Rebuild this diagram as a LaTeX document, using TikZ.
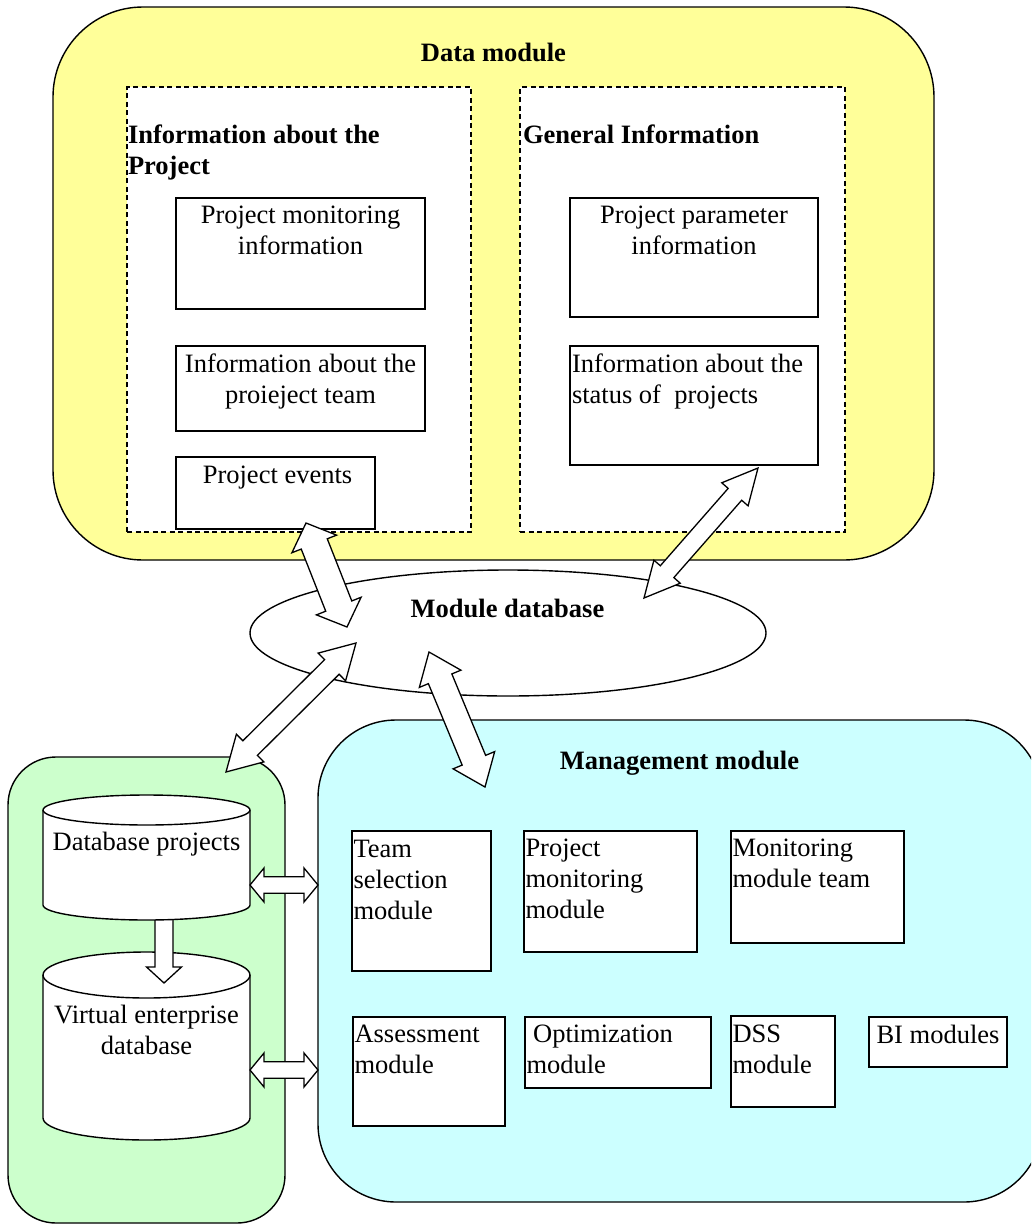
\documentclass[tikz,border=0pt]{standalone}
\usepackage{fontspec}
\setmainfont{Liberation Serif}
\usetikzlibrary{calc,shapes.geometric}

\definecolor{datafill}{RGB}{255,255,153}
\definecolor{mgmtfill}{RGB}{204,255,255}
\definecolor{storefill}{RGB}{204,255,204}

% stacked lines whose base anchor is the first baseline
\newcommand\txtL[1]{\vtop{\halign{##\hfil\cr#1\crcr}}}
\newcommand\txtC[1]{\vtop{\halign{\hfil##\hfil\cr#1\crcr}}}

% block double arrow: from, to, head length, head half-width, shaft half-width
\newcommand\dblarrow[5]{%
  \coordinate (ha) at ($(#1)!#3!(#2)$);
  \coordinate (hb) at ($(#2)!#3!(#1)$);
  \draw[fatarrow] (#1) -- ($(ha)!#4!90:(#2)$) -- ($(ha)!#5!90:(#2)$)
    -- ($(hb)!#5!-90:(#1)$) -- ($(hb)!#4!-90:(#1)$) -- (#2)
    -- ($(hb)!#4!90:(#1)$) -- ($(hb)!#5!90:(#1)$)
    -- ($(ha)!#5!-90:(#2)$) -- ($(ha)!#4!-90:(#2)$) -- cycle;}

% block single arrow: from, to, head length, head half-width, shaft half-width
\newcommand\onearrow[5]{%
  \coordinate (ha) at ($(#2)!#3!(#1)$);
  \draw[fatarrow] ($(#1)!#5!90:(#2)$) -- ($(ha)!#5!-90:(#1)$)
    -- ($(ha)!#4!-90:(#1)$) -- (#2) -- ($(ha)!#4!90:(#1)$)
    -- ($(ha)!#5!90:(#1)$) -- ($(#1)!#5!-90:(#2)$) -- cycle;}

\tikzset{
  every node/.style={font=\fontsize{26.5}{31}\selectfont, inner sep=0pt, outer sep=0pt},
  outline/.style={draw=black, line width=1.4pt},
  container/.style={outline, rectangle, anchor=north west},
  dashbox/.style={draw=black, line width=1.3pt, dash pattern=on 5pt off 3.5pt,
    fill=white, rectangle, anchor=north west},
  infobox/.style={outline, fill=white, rectangle, anchor=north west},
  fatarrow/.style={draw=black, line width=1.3pt, fill=white, line join=miter},
  titletext/.style={font=\fontsize{26.5}{31}\selectfont\bfseries},
}

\begin{document}
\begin{tikzpicture}[x=1pt,y=-1pt]
\useasboundingbox (0,0) rectangle (1031,1226);
\clip (0,0) rectangle (1031,1226);

% ---------------- data module ----------------
\node[container, fill=datafill, rounded corners=90pt,
  minimum width=881pt, minimum height=553pt] (datamod) at (53,7) {};
\node[titletext, anchor=base] (datatitle) at (493.5,61) {Data module};

\node[dashbox, minimum width=344pt, minimum height=445pt] (projinfo) at (127,87) {};
\node[dashbox, minimum width=325pt, minimum height=445pt] (geninfo) at (520,87) {};
\node[titletext, anchor=base west] (projtitle) at (128,143)
  {\txtL{Information about the\cr Project}};
\node[titletext, anchor=base west] (gentitle) at (523,143) {General Information};

\node[infobox, minimum width=249pt, minimum height=111pt] (pmon) at (176,198) {};
\node[anchor=base] (pmontxt) at (300.5,223) {\txtC{Project monitoring\cr information}};

\node[infobox, minimum width=249pt, minimum height=85pt] (pteam) at (176,346) {};
\node[anchor=base] (pteamtxt) at (300.5,372) {\txtC{Information about the\cr proieject team}};

\node[infobox, minimum width=199pt, minimum height=72pt] (pevents) at (176,457) {};
\node[anchor=base] (peventstxt) at (277.5,483) {Project events};

\node[infobox, minimum width=248pt, minimum height=119pt] (ppar) at (570,198) {};
\node[anchor=base] (ppartxt) at (694,223) {\txtC{Project parameter\cr information}};

\node[infobox, minimum width=248pt, minimum height=119pt] (pstat) at (570,346) {};
\node[anchor=base west] (pstattxt) at (572,372)
  {\txtL{Information about the\cr status of\ \ projects}};

% ---------------- module database ----------------
\node[ellipse, outline, fill=white, minimum width=516pt, minimum height=126pt]
  (moddb) at (508,633) {};
\node[titletext, anchor=base] (moddbtxt) at (507.5,617) {Module database};

% ---------------- storage ----------------
\node[container, fill=storefill, rounded corners=48pt,
  minimum width=277pt, minimum height=466pt] (store) at (8,757) {};

% virtual enterprise database cylinder
\filldraw[outline, fill=white] (43,975) -- (43,1118) arc (180:360:103.5pt and 22pt)
  -- (250,975) arc (0:180:103.5pt and 23pt) -- cycle;
\draw[outline] (43,975) arc (180:360:103.5pt and 23pt);
\node[anchor=base] (vedb) at (146.5,1023) {\txtC{Virtual enterprise\cr database}};

% copy arrow between the two databases
\coordinate (cpa) at (164,915);
\coordinate (cpb) at (164,983);
\onearrow{cpa}{cpb}{16pt}{17.5pt}{9pt}

% projects database cylinder
\filldraw[outline, fill=white] (43,810) -- (43,905) arc (180:360:103.5pt and 15pt)
  -- (250,810) arc (0:180:103.5pt and 15pt) -- cycle;
\draw[outline] (43,810) arc (180:360:103.5pt and 15pt);
\node[anchor=base] (dbproj) at (146.5,850) {Database projects};

% ---------------- management module ----------------
\node[container, fill=mgmtfill, rounded corners=78pt,
  minimum width=724pt, minimum height=482pt] (mgmt) at (318,720) {};
\node[titletext, anchor=base] (mgmttitle) at (679.5,769) {Management module};

\node[infobox, minimum width=139pt, minimum height=140pt] (teamsel) at (352,831) {};
\node[anchor=base west] (teamseltxt) at (353.5,857) {\txtL{Team\cr selection\cr module}};

\node[infobox, minimum width=173pt, minimum height=121pt] (pmonmod) at (524,831) {};
\node[anchor=base west] (pmonmodtxt) at (525.5,856) {\txtL{Project\cr monitoring\cr module}};

\node[infobox, minimum width=173pt, minimum height=112pt] (monteam) at (731,831) {};
\node[anchor=base west] (monteamtxt) at (732.5,856) {\txtL{Monitoring\cr module team}};

\node[infobox, minimum width=152pt, minimum height=109pt] (assess) at (353,1017) {};
\node[anchor=base west] (assesstxt) at (354.5,1042) {\txtL{Assessment\cr module}};

\node[infobox, minimum width=186pt, minimum height=71pt] (optim) at (525,1017) {};
\node[anchor=base west] (optimtxt) at (526.5,1042) {\txtL{\ Optimization\cr module}};

\node[infobox, minimum width=104pt, minimum height=91pt] (dss) at (731,1016) {};
\node[anchor=base west] (dsstxt) at (732.5,1042) {\txtL{DSS\cr module}};

\node[infobox, minimum width=138pt, minimum height=50pt] (bi) at (869,1017) {};
\node[anchor=base] (bitxt) at (938,1043) {BI modules};

% ---------------- connectors ----------------
\coordinate (evA) at (306,523);   \coordinate (evB) at (347,627);
\coordinate (stA) at (758,468);   \coordinate (stB) at (644,598);
\coordinate (vdA) at (356,643);   \coordinate (vdB) at (226,772);
\coordinate (mgA) at (429,652);   \coordinate (mgB) at (485,787);
\coordinate (h1A) at (250,885);   \coordinate (h1B) at (318,885);
\coordinate (h2A) at (250,1070);  \coordinate (h2B) at (318,1070);

\dblarrow{evA}{evB}{22.5pt}{24pt}{14pt}
\dblarrow{stA}{stB}{35pt}{17.5pt}{9pt}
\dblarrow{vdA}{vdB}{34pt}{19.5pt}{10.3pt}
\dblarrow{mgA}{mgB}{29pt}{22.5pt}{12.7pt}
\dblarrow{h1A}{h1B}{14pt}{17pt}{8.3pt}
\dblarrow{h2A}{h2B}{14pt}{17pt}{8.3pt}
\end{tikzpicture}
\end{document}
